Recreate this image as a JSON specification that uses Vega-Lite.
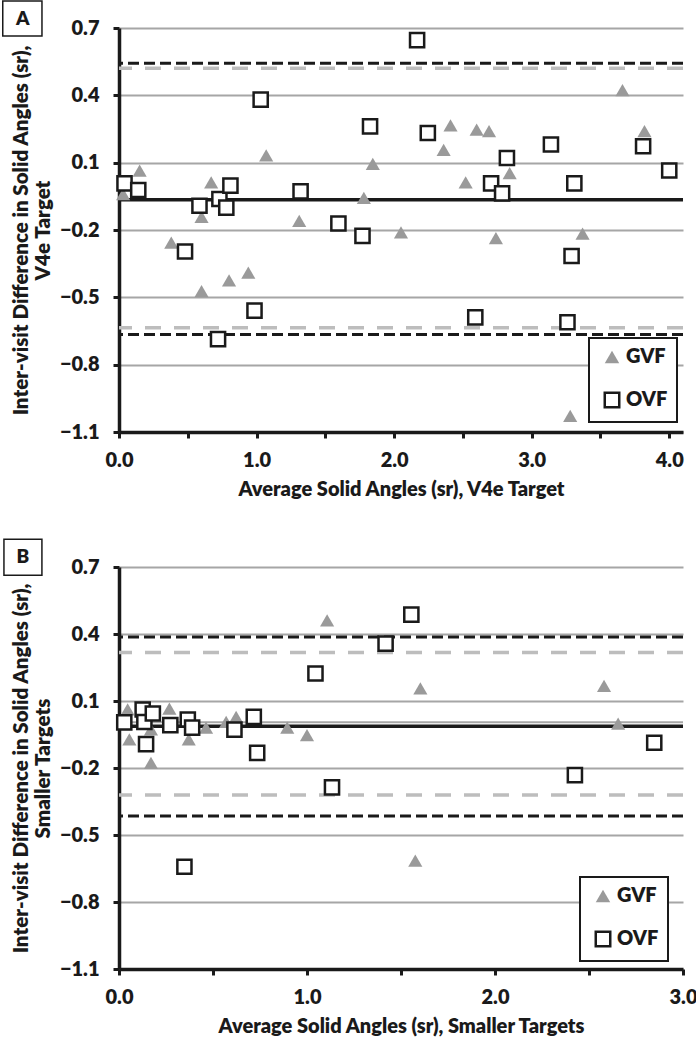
{
  "$schema": "https://vega.github.io/schema/vega-lite/v6.json",
  "padding": {"left": 2, "top": 0, "right": 0, "bottom": 2},
  "background": "white",
  "bounds": "flush",
  "spacing": 135,
  "datasets": {
    "ptsA": [
      {"x": 0.03, "y": -0.04, "g": "GVF"},
      {"x": 0.15, "y": 0.065, "g": "GVF"},
      {"x": 0.38, "y": -0.256, "g": "GVF"},
      {"x": 0.60, "y": -0.141, "g": "GVF"},
      {"x": 0.60, "y": -0.472, "g": "GVF"},
      {"x": 0.67, "y": 0.012, "g": "GVF"},
      {"x": 0.80, "y": -0.424, "g": "GVF"},
      {"x": 0.94, "y": -0.39, "g": "GVF"},
      {"x": 1.07, "y": 0.132, "g": "GVF"},
      {"x": 1.31, "y": -0.159, "g": "GVF"},
      {"x": 1.78, "y": -0.057, "g": "GVF"},
      {"x": 1.845, "y": 0.095, "g": "GVF"},
      {"x": 2.05, "y": -0.211, "g": "GVF"},
      {"x": 2.36, "y": 0.157, "g": "GVF"},
      {"x": 2.41, "y": 0.266, "g": "GVF"},
      {"x": 2.52, "y": 0.012, "g": "GVF"},
      {"x": 2.60, "y": 0.247, "g": "GVF"},
      {"x": 2.69, "y": 0.24, "g": "GVF"},
      {"x": 2.74, "y": -0.236, "g": "GVF"},
      {"x": 2.84, "y": 0.053, "g": "GVF"},
      {"x": 3.28, "y": -1.028, "g": "GVF"},
      {"x": 3.37, "y": -0.216, "g": "GVF"},
      {"x": 3.66, "y": 0.423, "g": "GVF"},
      {"x": 3.82, "y": 0.24, "g": "GVF"},
      {"x": 0.04, "y": 0.008, "g": "OVF"},
      {"x": 0.14, "y": -0.022, "g": "OVF"},
      {"x": 0.48, "y": -0.296, "g": "OVF"},
      {"x": 0.585, "y": -0.092, "g": "OVF"},
      {"x": 0.72, "y": -0.686, "g": "OVF"},
      {"x": 0.73, "y": -0.062, "g": "OVF"},
      {"x": 0.78, "y": -0.10, "g": "OVF"},
      {"x": 0.81, "y": -0.002, "g": "OVF"},
      {"x": 0.985, "y": -0.559, "g": "OVF"},
      {"x": 1.03, "y": 0.381, "g": "OVF"},
      {"x": 1.32, "y": -0.028, "g": "OVF"},
      {"x": 1.595, "y": -0.171, "g": "OVF"},
      {"x": 1.77, "y": -0.226, "g": "OVF"},
      {"x": 1.825, "y": 0.262, "g": "OVF"},
      {"x": 2.167, "y": 0.646, "g": "OVF"},
      {"x": 2.245, "y": 0.232, "g": "OVF"},
      {"x": 2.59, "y": -0.589, "g": "OVF"},
      {"x": 2.705, "y": 0.008, "g": "OVF"},
      {"x": 2.785, "y": -0.037, "g": "OVF"},
      {"x": 2.82, "y": 0.121, "g": "OVF"},
      {"x": 3.14, "y": 0.181, "g": "OVF"},
      {"x": 3.26, "y": -0.611, "g": "OVF"},
      {"x": 3.29, "y": -0.316, "g": "OVF"},
      {"x": 3.31, "y": 0.008, "g": "OVF"},
      {"x": 3.81, "y": 0.173, "g": "OVF"},
      {"x": 4.0, "y": 0.065, "g": "OVF"}
    ],
    "ptsB": [
      {"x": 0.046, "y": 0.062, "g": "GVF"},
      {"x": 0.055, "y": -0.072, "g": "GVF"},
      {"x": 0.17, "y": -0.027, "g": "GVF"},
      {"x": 0.17, "y": -0.177, "g": "GVF"},
      {"x": 0.268, "y": 0.066, "g": "GVF"},
      {"x": 0.371, "y": -0.072, "g": "GVF"},
      {"x": 0.463, "y": -0.019, "g": "GVF"},
      {"x": 0.57, "y": 0.006, "g": "GVF"},
      {"x": 0.623, "y": 0.029, "g": "GVF"},
      {"x": 0.895, "y": -0.019, "g": "GVF"},
      {"x": 1.0, "y": -0.053, "g": "GVF"},
      {"x": 1.107, "y": 0.461, "g": "GVF"},
      {"x": 1.576, "y": -0.615, "g": "GVF"},
      {"x": 1.603, "y": 0.156, "g": "GVF"},
      {"x": 2.58, "y": 0.168, "g": "GVF"},
      {"x": 2.655, "y": -0.001, "g": "GVF"},
      {"x": 0.028, "y": 0.004, "g": "OVF"},
      {"x": 0.126, "y": 0.062, "g": "OVF"},
      {"x": 0.135, "y": 0.006, "g": "OVF"},
      {"x": 0.18, "y": 0.044, "g": "OVF"},
      {"x": 0.144, "y": -0.093, "g": "OVF"},
      {"x": 0.273, "y": -0.008, "g": "OVF"},
      {"x": 0.348, "y": -0.642, "g": "OVF"},
      {"x": 0.366, "y": 0.017, "g": "OVF"},
      {"x": 0.389, "y": -0.019, "g": "OVF"},
      {"x": 0.614, "y": -0.028, "g": "OVF"},
      {"x": 0.717, "y": 0.029, "g": "OVF"},
      {"x": 0.735, "y": -0.132, "g": "OVF"},
      {"x": 1.045, "y": 0.223, "g": "OVF"},
      {"x": 1.133, "y": -0.287, "g": "OVF"},
      {"x": 1.418, "y": 0.357, "g": "OVF"},
      {"x": 1.555, "y": 0.487, "g": "OVF"},
      {"x": 2.425, "y": -0.232, "g": "OVF"},
      {"x": 2.847, "y": -0.087, "g": "OVF"}
    ],
    "linesA": [
      {"y": 0.521, "kind": "GVF limit"},
      {"y": -0.636, "kind": "GVF limit"},
      {"y": 0.543, "kind": "OVF limit"},
      {"y": -0.666, "kind": "OVF limit"},
      {"y": -0.065, "kind": "OVF mean"}
    ],
    "linesB": [
      {"y": 0.317, "kind": "GVF limit"},
      {"y": -0.321, "kind": "GVF limit"},
      {"y": 0.005, "kind": "GVF mean"},
      {"y": 0.387, "kind": "OVF limit"},
      {"y": -0.415, "kind": "OVF limit"},
      {"y": -0.013, "kind": "OVF mean"}
    ]
  },
  "vconcat": [
    {
      "width": 564,
      "height": 404,
      "layer": [
        {
          "data": {"name": "linesA"},
          "transform": [{"filter": "datum.kind === 'GVF limit'"}],
          "mark": {"type": "rule", "color": "#bdbdbd", "strokeWidth": 3.5, "strokeDash": [16, 13]},
          "encoding": {"y": {"field": "y", "type": "quantitative"}}
        },
        {
          "data": {"name": "linesA"},
          "transform": [{"filter": "datum.kind === 'OVF limit'"}],
          "mark": {"type": "rule", "color": "#1a1a1a", "strokeWidth": 3, "strokeDash": [11, 5]},
          "encoding": {"y": {"field": "y", "type": "quantitative"}}
        },
        {
          "data": {"name": "linesA"},
          "transform": [{"filter": "datum.kind === 'OVF mean'"}],
          "mark": {"type": "rule", "color": "#1a1a1a", "strokeWidth": 3.5},
          "encoding": {"y": {"field": "y", "type": "quantitative"}}
        },
        {
          "data": {"name": "ptsA"},
          "mark": {"type": "point", "strokeWidth": 2.5, "opacity": 1, "size": 200},
          "encoding": {
            "x": {
              "field": "x", "type": "quantitative",
              "scale": {"domain": [0, 4.1], "nice": false, "zero": false},
              "axis": {
                "title": "Average Solid Angles (sr), V4e Target",
                "values": [0, 0.5, 1, 1.5, 2, 2.5, 3, 3.5, 4],
                "labelExpr": "datum.value % 1 === 0 ? format(datum.value, '.1f') : ''"
              }
            },
            "y": {
              "field": "y", "type": "quantitative",
              "scale": {"domain": [-1.1, 0.7], "nice": false, "zero": false},
              "axis": {
                "title": ["Inter-visit Difference in Solid Angles (sr),", "V4e Target"],
                "values": [-1.1, -0.8, -0.5, -0.2, 0.1, 0.4, 0.7],
                "format": ".1f"
              }
            },
            "shape": {"field": "g", "type": "nominal", "scale": {"domain": ["GVF", "OVF"], "range": ["triangle-up", "square"]}, "legend": {"title": null, "legendX": 470, "legendY": 310}},
            "fill": {"field": "g", "type": "nominal", "scale": {"domain": ["GVF", "OVF"], "range": ["#9a9a9a", "#ffffff"]}, "legend": {"title": null, "legendX": 470, "legendY": 310}},
            "stroke": {"field": "g", "type": "nominal", "scale": {"domain": ["GVF", "OVF"], "range": ["transparent", "#1a1a1a"]}, "legend": {"title": null, "legendX": 470, "legendY": 310}}
          }
        },
        {
          "data": {"values": [{}]},
          "mark": {"type": "rect", "fill": "white", "stroke": "#1a1a1a", "strokeWidth": 1.5},
          "encoding": {
            "x": {"datum": -0.845},
            "x2": {"datum": -0.56},
            "y": {"datum": 0.82},
            "y2": {"datum": 0.664}
          }
        },
        {
          "data": {"values": [{}]},
          "mark": {"type": "text", "text": "A", "font": "Lato", "fontWeight": 800, "fontSize": 19, "color": "#1a1a1a", "align": "center", "baseline": "middle"},
          "encoding": {
            "x": {"datum": -0.70},
            "y": {"datum": 0.742}
          }
        }
      ]
    },
    {
      "width": 564,
      "height": 402,
      "layer": [
        {
          "data": {"name": "linesB"},
          "transform": [{"filter": "datum.kind === 'GVF limit'"}],
          "mark": {"type": "rule", "color": "#bdbdbd", "strokeWidth": 3.5, "strokeDash": [16, 13]},
          "encoding": {"y": {"field": "y", "type": "quantitative"}}
        },
        {
          "data": {"name": "linesB"},
          "transform": [{"filter": "datum.kind === 'GVF mean'"}],
          "mark": {"type": "rule", "color": "#a6a6a6", "strokeWidth": 2},
          "encoding": {"y": {"field": "y", "type": "quantitative"}}
        },
        {
          "data": {"name": "linesB"},
          "transform": [{"filter": "datum.kind === 'OVF limit'"}],
          "mark": {"type": "rule", "color": "#1a1a1a", "strokeWidth": 3, "strokeDash": [11, 5]},
          "encoding": {"y": {"field": "y", "type": "quantitative"}}
        },
        {
          "data": {"name": "linesB"},
          "transform": [{"filter": "datum.kind === 'OVF mean'"}],
          "mark": {"type": "rule", "color": "#1a1a1a", "strokeWidth": 3.5},
          "encoding": {"y": {"field": "y", "type": "quantitative"}}
        },
        {
          "data": {"name": "ptsB"},
          "mark": {"type": "point", "strokeWidth": 2.5, "opacity": 1, "size": 200},
          "encoding": {
            "x": {
              "field": "x", "type": "quantitative",
              "scale": {"domain": [0, 3], "nice": false, "zero": false},
              "axis": {
                "title": "Average Solid Angles (sr), Smaller Targets",
                "values": [0, 0.5, 1, 1.5, 2, 2.5, 3],
                "labelExpr": "datum.value % 1 === 0 ? format(datum.value, '.1f') : ''"
              }
            },
            "y": {
              "field": "y", "type": "quantitative",
              "scale": {"domain": [-1.1, 0.7], "nice": false, "zero": false},
              "axis": {
                "title": ["Inter-visit Difference in Solid Angles (sr),", "Smaller Targets"],
                "values": [-1.1, -0.8, -0.5, -0.2, 0.1, 0.4, 0.7],
                "format": ".1f"
              }
            },
            "shape": {"field": "g", "type": "nominal", "scale": {"domain": ["GVF", "OVF"], "range": ["triangle-up", "square"]}, "legend": {"title": null, "legendX": 461, "legendY": 310}},
            "fill": {"field": "g", "type": "nominal", "scale": {"domain": ["GVF", "OVF"], "range": ["#9a9a9a", "#ffffff"]}, "legend": {"title": null, "legendX": 461, "legendY": 310}},
            "stroke": {"field": "g", "type": "nominal", "scale": {"domain": ["GVF", "OVF"], "range": ["transparent", "#1a1a1a"]}, "legend": {"title": null, "legendX": 461, "legendY": 310}}
          }
        },
        {
          "data": {"values": [{}]},
          "mark": {"type": "rect", "fill": "white", "stroke": "#1a1a1a", "strokeWidth": 1.5},
          "encoding": {
            "x": {"datum": -0.612},
            "x2": {"datum": -0.41},
            "y": {"datum": 0.824},
            "y2": {"datum": 0.663}
          }
        },
        {
          "data": {"values": [{}]},
          "mark": {"type": "text", "text": "B", "font": "Lato", "fontWeight": 800, "fontSize": 19, "color": "#1a1a1a", "align": "center", "baseline": "middle"},
          "encoding": {
            "x": {"datum": -0.511},
            "y": {"datum": 0.745}
          }
        }
      ]
    }
  ],
  "resolve": {
    "scale": {"x": "independent", "y": "independent", "shape": "independent", "fill": "independent", "stroke": "independent"},
    "legend": {"shape": "independent", "fill": "independent", "stroke": "independent"}
  },
  "config": {
    "view": {"stroke": null},
    "font": "Lato",
    "axis": {
      "labelFont": "Lato", "labelFontWeight": 800, "labelFontSize": 20, "labelColor": "#1a1a1a",
      "titleFont": "Lato", "titleFontWeight": 800, "titleColor": "#1a1a1a",
      "domainColor": "#1a1a1a", "domainWidth": 3.5,
      "tickColor": "#1a1a1a", "tickWidth": 3, "tickSize": 6,
      "gridColor": "#a6a6a6", "gridWidth": 2, "labelFlush": false
    },
    "axisX": {"grid": false, "labelPadding": 12, "titlePadding": 9, "titleFontSize": 20},
    "axisY": {"grid": true, "labelPadding": 14, "titlePadding": 6, "titleLineHeight": 22, "titleFontSize": 20.5},
    "legend": {
      "orient": "none",
      "labelFont": "Lato", "labelFontSize": 20, "labelFontWeight": 800, "labelColor": "#1a1a1a",
      "symbolSize": 210, "symbolStrokeWidth": 2.5, "symbolOpacity": 1, "symbolOffset": 4,
      "strokeColor": "#1a1a1a", "strokeWidth": 2, "fillColor": "white",
      "padding": 9, "rowPadding": 18, "labelOffset": 4, "cornerRadius": 0
    }
  }
}
